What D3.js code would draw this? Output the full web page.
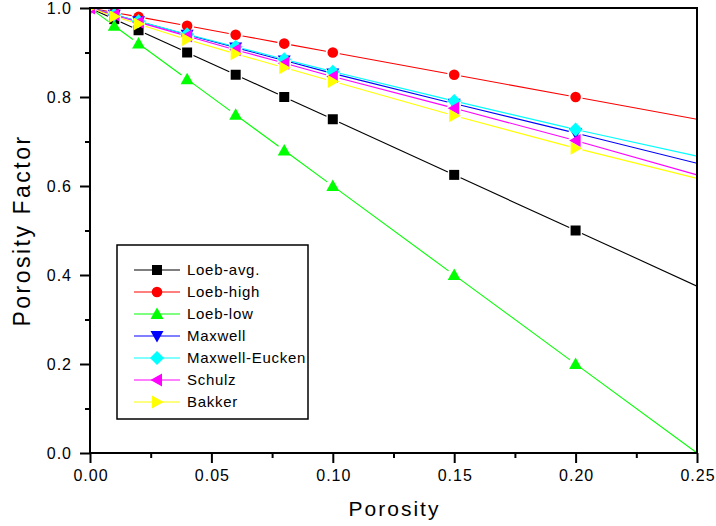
<!DOCTYPE html>
<html>
<head>
<meta charset="utf-8">
<script src="https://cdn.jsdelivr.net/npm/d3@7/dist/d3.min.js"></script>
<style>
  html, body { margin: 0; padding: 0; background: #fff; }
  svg { display: block; }
  text { font-family: "Liberation Sans", Arial, sans-serif; fill: #000; }
</style>
</head>
<body>
<script>
// Porosity values at which each model is evaluated (last point is the line end only)
const porosity = [0, 0.01, 0.02, 0.04, 0.06, 0.08, 0.10, 0.15, 0.20, 0.25];
// Points that carry a symbol
const markedPorosity = [0, 0.01, 0.02, 0.04, 0.06, 0.08, 0.10, 0.15, 0.20];

const loebAvg       = [1.000, 0.975, 0.950, 0.900, 0.850, 0.800, 0.750, 0.625, 0.500, 0.375];
const loebHigh      = [1.000, 0.990, 0.980, 0.960, 0.940, 0.920, 0.900, 0.850, 0.800, 0.750];
const loebLow       = [1.000, 0.960, 0.920, 0.840, 0.760, 0.680, 0.600, 0.400, 0.200, 0.000];
const maxwell       = [1.000, 0.985, 0.970, 0.940, 0.911, 0.882, 0.853, 0.785, 0.719, 0.651];
const maxwellEucken = [1.000, 0.985, 0.970, 0.941, 0.913, 0.885, 0.857, 0.791, 0.727, 0.667];
const schulz        = [1.000, 0.984, 0.968, 0.937, 0.906, 0.876, 0.846, 0.775, 0.702, 0.625];
const bakker        = [1.000, 0.981, 0.964, 0.929, 0.897, 0.866, 0.835, 0.758, 0.685, 0.617];

const seriesNames = ["Loeb-avg.", "Loeb-high", "Loeb-low", "Maxwell", "Maxwell-Eucken", "Schulz", "Bakker"];
const seriesValues = [loebAvg, loebHigh, loebLow, maxwell, maxwellEucken, schulz, bakker];
const seriesColors = ["#000000", "#ff0000", "#00ff00", "#0000ff", "#00ffff", "#ff00ff", "#ffff00"];
const seriesSymbols = ["square", "circle", "triangleUp", "triangleDown", "diamond", "triangleLeft", "triangleRight"];

const xTicks = [0, 0.05, 0.10, 0.15, 0.20, 0.25];
const xMinorTicks = [0.025, 0.075, 0.125, 0.175, 0.225];
const yTicks = [0, 0.2, 0.4, 0.6, 0.8, 1.0];
const yMinorTicks = [0.1, 0.3, 0.5, 0.7, 0.9];

const W = 716, H = 526;
const margin = { left: 90, right: 19, top: 8, bottom: 73 };
const plotW = W - margin.left - margin.right;
const plotH = H - margin.top - margin.bottom;

const svg = d3.select("body").append("svg").attr("width", W).attr("height", H);

const x = d3.scaleLinear().domain([0, 0.25]).range([margin.left, margin.left + plotW]);
const y = d3.scaleLinear().domain([0, 1.0]).range([margin.top + plotH, margin.top]);

// Symbol path generators, centred on (0,0)
function symbolPath(kind) {
  switch (kind) {
    case "square": { const s = 5; return `M${-s},${-s}H${s}V${s}H${-s}Z`; }
    case "circle": { const r = 5.3; return `M${r},0A${r},${r} 0 1,1 ${-r},0A${r},${r} 0 1,1 ${r},0Z`; }
    case "triangleUp": return "M0,-6.5L6.5,5L-6.5,5Z";
    case "triangleDown": return "M0,6.5L6.5,-5L-6.5,-5Z";
    case "triangleLeft": return "M-6.5,0L5,-6.5L5,6.5Z";
    case "triangleRight": return "M6.5,0L-5,-6.5L-5,6.5Z";
    case "diamond": return "M0,-7L7,0L0,7L-7,0Z";
  }
}

const defs = svg.append("defs");
defs.append("clipPath").attr("id", "plotClip")
  .append("rect")
  .attr("x", margin.left).attr("y", margin.top)
  .attr("width", plotW).attr("height", plotH);

const plot = svg.append("g").attr("clip-path", "url(#plotClip)");

// Line segments stop short of each symbol, leaving a small gap around it
const gap = 7;
const isMarked = xv => markedPorosity.includes(xv);

seriesValues.forEach((vals, si) => {
  const g = plot.append("g");
  const pts = porosity.map((p, i) => ({ p, v: vals[i], px: x(p), py: y(vals[i]) }));
  const segs = [];
  for (let i = 0; i < pts.length - 1; i++) {
    const a = pts[i], b = pts[i + 1];
    const dx = b.px - a.px, dy = b.py - a.py;
    const len = Math.hypot(dx, dy);
    const ga = isMarked(a.p) ? gap : 0;
    const gb = isMarked(b.p) ? gap : 0;
    if (len <= ga + gb) continue;
    segs.push({
      x1: a.px + dx * ga / len, y1: a.py + dy * ga / len,
      x2: b.px - dx * gb / len, y2: b.py - dy * gb / len
    });
  }
  g.selectAll("line").data(segs).join("line")
    .attr("x1", d => d.x1).attr("y1", d => d.y1)
    .attr("x2", d => d.x2).attr("y2", d => d.y2)
    .attr("stroke", seriesColors[si]).attr("stroke-width", 1.1);

  g.selectAll("path").data(pts.filter(d => isMarked(d.p))).join("path")
    .attr("d", symbolPath(seriesSymbols[si]))
    .attr("transform", d => `translate(${d.px},${d.py})`)
    .attr("fill", seriesColors[si]);
});

// Frame: top and right borders
svg.append("line")
  .attr("x1", margin.left).attr("x2", margin.left + plotW)
  .attr("y1", margin.top).attr("y2", margin.top)
  .attr("stroke", "#000").attr("stroke-width", 2);
svg.append("line")
  .attr("x1", margin.left + plotW).attr("x2", margin.left + plotW)
  .attr("y1", margin.top - 1).attr("y2", margin.top + plotH)
  .attr("stroke", "#000").attr("stroke-width", 2);

// Bottom axis
const xAxis = svg.append("g").attr("transform", `translate(0,${margin.top + plotH})`);
xAxis.append("line")
  .attr("x1", margin.left - 1).attr("x2", margin.left + plotW + 1)
  .attr("stroke", "#000").attr("stroke-width", 2);
xAxis.append("g").call(
  d3.axisBottom(x).tickValues(xTicks).tickSize(10).tickPadding(7)
    .tickFormat(d3.format(".2f"))
).call(g => {
  g.select(".domain").remove();
  g.selectAll(".tick line").attr("stroke-width", 2);
  g.selectAll(".tick text")
    .attr("font-size", 16).attr("letter-spacing", 1)
    .attr("font-family", "'Liberation Sans', Arial, sans-serif")
    .attr("dx", 0.5);
});
xAxis.append("g").call(
  d3.axisBottom(x).tickValues(xMinorTicks).tickSize(5).tickFormat("")
).call(g => {
  g.select(".domain").remove();
  g.selectAll(".tick line").attr("stroke-width", 2);
});

// Left axis
const yAxis = svg.append("g").attr("transform", `translate(${margin.left},0)`);
yAxis.append("line")
  .attr("y1", margin.top - 1).attr("y2", margin.top + plotH + 1)
  .attr("stroke", "#000").attr("stroke-width", 2);
yAxis.append("g").call(
  d3.axisLeft(y).tickValues(yTicks).tickSize(10).tickPadding(8)
    .tickFormat(d3.format(".1f"))
).call(g => {
  g.select(".domain").remove();
  g.selectAll(".tick line").attr("stroke-width", 2);
  g.selectAll(".tick text")
    .attr("font-size", 16).attr("letter-spacing", 1)
    .attr("font-family", "'Liberation Sans', Arial, sans-serif");
});
yAxis.append("g").call(
  d3.axisLeft(y).tickValues(yMinorTicks).tickSize(5).tickFormat("")
).call(g => {
  g.select(".domain").remove();
  g.selectAll(".tick line").attr("stroke-width", 2);
});

// Axis titles
svg.append("text")
  .attr("x", margin.left + plotW / 2 + 1).attr("y", 516)
  .attr("text-anchor", "middle")
  .attr("font-size", 21).attr("letter-spacing", 2)
  .text("Porosity");
svg.append("text")
  .attr("transform", `translate(30,${margin.top + plotH / 2}) rotate(-90)`)
  .attr("text-anchor", "middle")
  .attr("font-size", 23).attr("letter-spacing", 2.5)
  .text("Porosity Factor");

// Legend
const legend = svg.append("g");
legend.append("rect")
  .attr("x", 117).attr("y", 245).attr("width", 191).attr("height", 174)
  .attr("fill", "#fff").attr("stroke", "#000").attr("stroke-width", 1.5);

const rows = legend.selectAll("g.row").data(seriesNames).join("g")
  .attr("class", "row")
  .attr("transform", (d, i) => `translate(0,${270 + i * 22})`);
rows.append("line")
  .attr("x1", 134).attr("x2", 180)
  .attr("stroke", (d, i) => seriesColors[i]).attr("stroke-width", 1.1);
rows.append("path")
  .attr("d", (d, i) => symbolPath(seriesSymbols[i]))
  .attr("transform", "translate(157,0)")
  .attr("fill", (d, i) => seriesColors[i]);
rows.append("text")
  .attr("x", 187).attr("y", 0).attr("dy", "0.36em")
  .attr("font-size", 15).attr("letter-spacing", 0.7)
  .text(d => d);
</script>
</body>
</html>
